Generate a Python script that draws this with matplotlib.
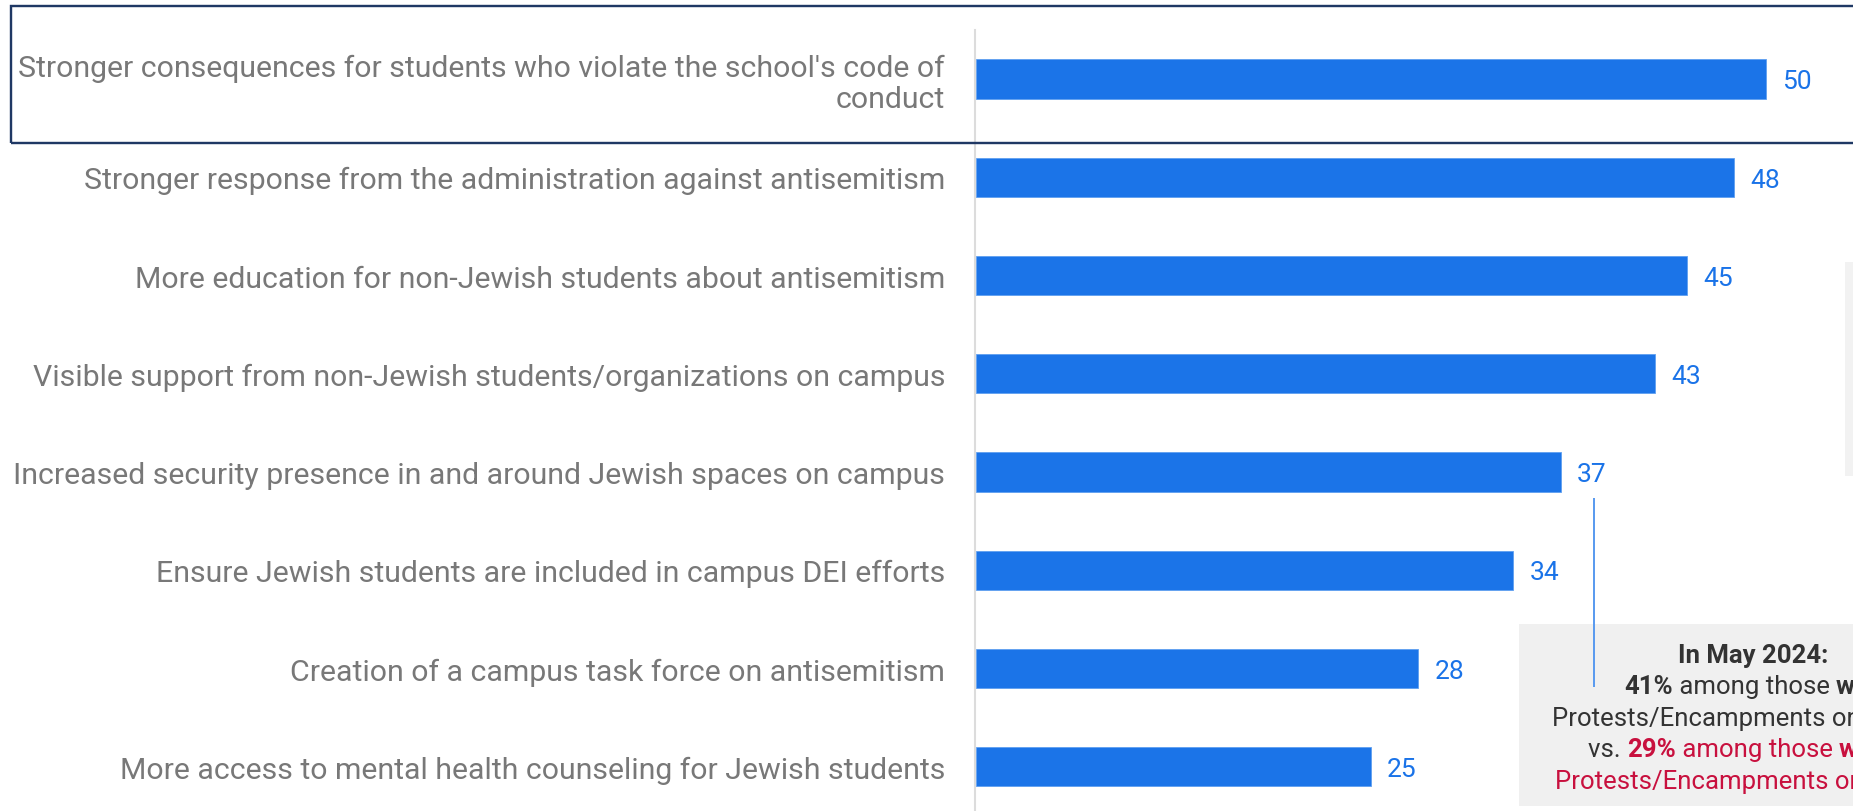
import matplotlib
matplotlib.use("Agg")
import matplotlib.pyplot as plt
from matplotlib.patches import Rectangle
from matplotlib.lines import Line2D

# ---------------- data ----------------
categories = [
    "Stronger consequences for students who violate the school's code of\nconduct",
    "Stronger response from the administration against antisemitism",
    "More education for non-Jewish students about antisemitism",
    "Visible support from non-Jewish students/organizations on campus",
    "Increased security presence in and around Jewish spaces on campus",
    "Ensure Jewish students are included in campus DEI efforts",
    "Creation of a campus task force on antisemitism",
    "More access to mental health counseling for Jewish students",
]
values = [50, 48, 45, 43, 37, 34, 28, 25]

note_title = "In May 2024:"
note_line2 = [("41%", "dark", "bold"), (" among those ", "dark", "normal"),
              ("who saw Anti-Israel", "dark", "bold")]
note_line3 = [("Protests/Encampments on campus", "dark", "normal")]
note_line4 = [("vs. ", "dark", "normal"), ("29%", "red", "bold"),
              (" among those ", "red", "normal"), ("who did not see", "red", "bold")]
note_line5 = [("Protests/Encampments on campus", "red", "normal")]

# ---------------- style ----------------
W, H = 1853, 812
DPI = 100
FONT = ["Roboto", "DejaVu Sans"]
plt.rcParams["font.family"] = FONT

BAR = "#1b74e8"
VAL = "#1a73e8"
LABEL = "#787878"
DARK = "#333333"
RED = "#c8103e"
NAVY = "#1f3864"
colors = {"dark": DARK, "red": RED}


def fx(x):
    return x / W


def fy(y):
    return 1 - y / H


fig = plt.figure(figsize=(W / DPI, H / DPI), dpi=DPI)
renderer = fig.canvas.get_renderer()

# fit category label font size to the reference width
probe = fig.text(0, 0, categories[4], fontsize=20)
w20 = probe.get_window_extent(renderer).width
probe.remove()
label_fs = 20 * 930 / w20

# axes
ax_left = 975
ax = fig.add_axes([fx(ax_left), 0, 1 - fx(ax_left), 1 - 31 / H])
px_per_unit = (1767 - 976) / 50.0
ax.set_xlim(-1 / px_per_unit, (W - ax_left) / px_per_unit)
ypos = list(range(len(values)))
ax.barh(ypos, values, height=0.40, color=BAR, edgecolor="#5f9ff0", linewidth=0.6)
ax.set_ylim(7.45, -0.5)

for s in ["top", "right", "bottom"]:
    ax.spines[s].set_visible(False)
ax.spines["left"].set_color("#dcdcdc")
ax.spines["left"].set_linewidth(1.5)
ax.set_xticks([])
ax.set_yticks(ypos)
ax.set_yticklabels(categories, linespacing=1.12)
ax.tick_params(axis="y", length=0, pad=30 * 72 / DPI, labelcolor=LABEL,
               labelsize=label_fs)

for i, v in enumerate(values):
    ax.annotate(str(v), (v, i), xytext=(16 * 72 / DPI, -6.6), textcoords="offset points",
                ha="left", va="baseline", color=VAL, fontsize=19)

# highlight box around the first row
fig.add_artist(Rectangle((fx(11), fy(144)), fx(1900 - 11), (144 - 7) / H,
                         transform=fig.transFigure, fill=False, edgecolor=NAVY,
                         linewidth=2.4 * 72 / DPI, zorder=5))

# partially visible grey panel on the right
fig.add_artist(Rectangle((fx(1845), fy(477)), fx(100), (477 - 263) / H,
                         transform=fig.transFigure, facecolor="#f2f2f2",
                         edgecolor="none", zorder=2))

# annotation panel
fig.add_artist(Rectangle((fx(1519), fy(807)), fx(400), (807 - 625) / H,
                         transform=fig.transFigure, facecolor="#f0f0f0",
                         edgecolor="none", zorder=2))

# connector line
fig.add_artist(Line2D([fx(1593.5), fx(1593.5)], [fy(500), fy(687)],
                      transform=fig.transFigure, color="#5b9bef",
                      linewidth=2 * 72 / DPI, zorder=6))

# fit annotation font size
probe = fig.text(0, 0, note_title, fontsize=17, fontweight="bold")
wt = probe.get_window_extent(renderer).width
probe.remove()
note_fs = 17 * 151 / wt


def draw_pieces(x0, yc, pieces):
    x = x0
    for txt, col, wt_ in pieces:
        t = fig.text(fx(x), fy(yc), txt, color=colors[col], fontweight=wt_,
                     fontsize=note_fs, ha="left", va="center_baseline", zorder=7)
        x = t.get_window_extent(renderer).x1


fig.text(fx(1753.5), fy(653), note_title, color=DARK, fontweight="bold",
         fontsize=note_fs, ha="center", va="center_baseline", zorder=7)
draw_pieces(1624, 685, note_line2)
draw_pieces(1552, 717, note_line3)
draw_pieces(1588, 748, note_line4)
draw_pieces(1555, 780, note_line5)

fig.savefig("out.png", dpi=DPI)
